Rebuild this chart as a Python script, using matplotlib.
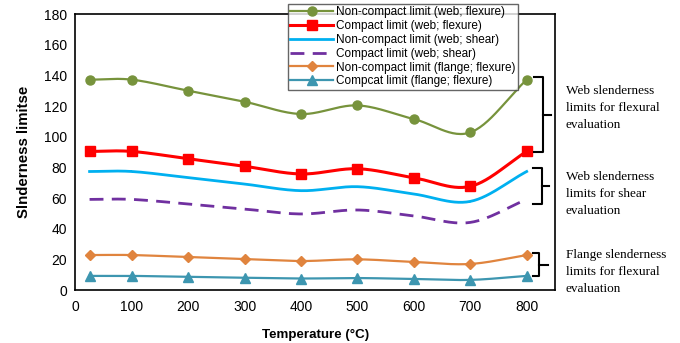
import numpy as np
import matplotlib
matplotlib.use("Agg")
from matplotlib import pyplot as plt

temps = [25, 100, 200, 300, 400, 500, 600, 700, 800]
nc_web_flex = [137.2, 137.2, 130.0, 122.8, 114.8, 120.4, 111.5, 102.8, 137.2]
c_web_flex = [90.4, 90.4, 85.6, 80.7, 75.7, 79.1, 73.2, 67.6, 90.4]
nc_web_shear = [77.3, 77.3, 73.3, 69.1, 64.8, 67.4, 62.6, 57.8, 77.3]
c_web_shear = [59.1, 59.1, 56.1, 52.8, 49.6, 52.2, 48.3, 44.1, 59.1]
nc_flange = [22.8, 22.8, 21.5, 20.2, 18.9, 20.0, 18.3, 17.0, 22.8]
c_flange = [9.2, 9.2, 8.6, 8.0, 7.5, 7.8, 7.2, 6.6, 9.2]

labels = ["Non-compact limit (web; flexure)", "Compact limit (web; flexure)",
          "Non-compact limit (web; shear)", "Compact limit (web; shear)",
          "Non-compact limit (flange; flexure)", "Compcat limit (flange; flexure)"]
group_text = ["Web slenderness\nlimits for flexural\nevaluation",
              "Web slenderness\nlimits for shear\nevaluation",
              "Flange slenderness\nlimits for flexural\nevaluation"]


def smooth(x, y, n=30):
    # catmull-rom style smoothing like excel's smoothed line
    x = np.asarray(x, float)
    y = np.asarray(y, float)
    px = np.concatenate([[2 * x[0] - x[1]], x, [2 * x[-1] - x[-2]]])
    py = np.concatenate([[2 * y[0] - y[1]], y, [2 * y[-1] - y[-2]]])
    xs, ys = [], []
    t = np.linspace(0, 1, n)
    for i in range(1, len(px) - 2):
        p0, p1, p2, p3 = px[i - 1], px[i], px[i + 1], px[i + 2]
        q0, q1, q2, q3 = py[i - 1], py[i], py[i + 1], py[i + 2]
        for a, b, c, d, out in ((p0, p1, p2, p3, xs), (q0, q1, q2, q3, ys)):
            out.extend(0.5 * ((2 * b) + (-a + c) * t + (2 * a - 5 * b + 4 * c - d) * t ** 2
                              + (-a + 3 * b - 3 * c + d) * t ** 3))
    return np.array(xs), np.array(ys)


plt.rcParams['font.family'] = ['Liberation Sans', 'DejaVu Sans']
fig = plt.figure(figsize=(6.8, 3.43), dpi=100)
ax = fig.add_axes([0.111, 0.1545, 0.705, 0.8045])

styles = [
    (nc_web_flex, '#77933C', 'o', 6.5, 1.6, '-'),
    (c_web_flex, '#FF0000', 's', 6.5, 2.2, '-'),
    (nc_web_shear, '#00B0F0', None, 0, 2.0, '-'),
    (c_web_shear, '#7030A0', None, 0, 2.0, (0, (5, 3))),
    (nc_flange, '#E0843E', 'D', 5, 1.6, '-'),
    (c_flange, '#3D96B0', '^', 6.5, 1.6, '-'),
]
for (vals, col, mk, ms, lw, ls), lab in zip(styles, labels):
    sx, sy = smooth(temps, vals)
    ax.plot(sx, sy, color=col, lw=lw, ls=ls)
    ax.plot(temps, vals, color=col, marker=mk, ms=ms, lw=0)
    ax.plot([], [], color=col, lw=lw, ls=ls, marker=mk, ms=ms, label=lab)

ax.set_xlim(0, 850)
ax.set_ylim(0, 180)
ax.set_xticks(range(0, 801, 100))
ax.set_yticks(range(0, 181, 20))
ax.tick_params(length=0, labelsize=10, pad=6)
ax.tick_params(axis='x', pad=7)
for s in ax.spines.values():
    s.set_linewidth(1.2)
ax.set_xlabel("Temperature (°C)", fontsize=9.6, fontweight='bold', labelpad=11)
ax.set_ylabel("Slnderness limitse", fontsize=10.8, fontweight='bold', labelpad=9)

leg = ax.legend(loc='upper left', bbox_to_anchor=(0.4235, 0.988), bbox_transform=fig.transFigure,
                fontsize=8.5, frameon=True, fancybox=False, edgecolor='#404040',
                handlelength=3.6, labelspacing=0.15, borderpad=0.2, handletextpad=0.3,
                borderaxespad=0)
leg.get_frame().set_linewidth(1.0)
leg.set_zorder(5)

# brackets on the right
brackets = [(813, 829, 843, 138.9, 90.0), (811, 828, 839, 79.6, 56.0), (811, 822, 838, 24.1, 9.1)]
for (xl, xv, xt, top, bot) in brackets:
    mid = (top + bot) / 2
    ax.plot([xl, xv, xv, xl], [top, top, bot, bot], color='black', lw=1.5, clip_on=False)
    ax.plot([xv, xt], [mid, mid], color='black', lw=1.5, clip_on=False)

text_y = [1 - 108 / 343, 1 - 194 / 343, 1 - 272 / 343]
for ty, txt in zip(text_y, group_text):
    fig.text(0.832, ty, txt, fontsize=9.5, family=['Liberation Serif'], va='center', ha='left',
             linespacing=1.6)

fig.savefig("out.png", dpi=100)
